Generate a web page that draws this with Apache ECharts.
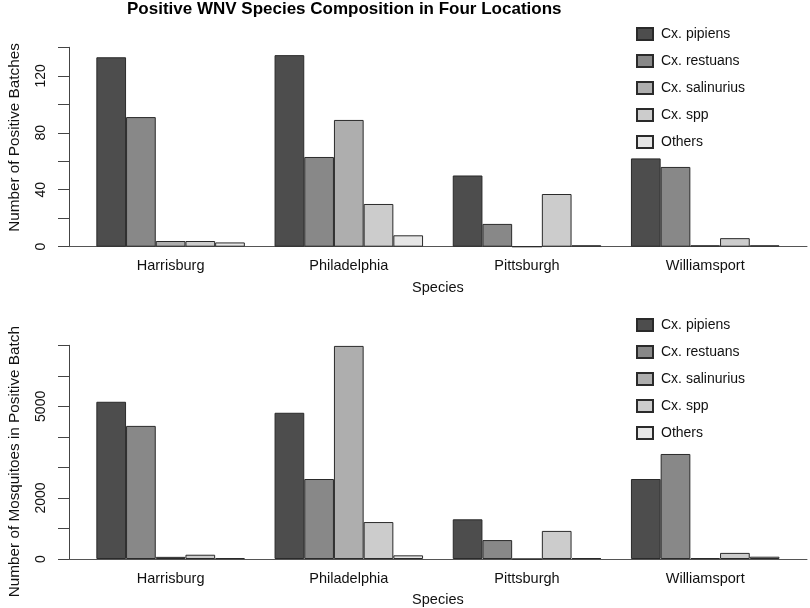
<!DOCTYPE html>
<html><head><meta charset="utf-8">
<script src="https://cdn.jsdelivr.net/npm/echarts@6/dist/echarts.min.js"></script>
<style>html,body{margin:0;padding:0;background:#fff}#c{width:810px;height:608px}</style>
</head><body><div id="c"></div><script>
// ---- data ----
const locations = ['Harrisburg', 'Philadelphia', 'Pittsburgh', 'Williamsport'];
const species = ['Cx. pipiens', 'Cx. restuans', 'Cx. salinurius', 'Cx. spp', 'Others'];

// Number of positive batches (top panel)
const batchesPipiens    = [133, 134.5, 50, 62];
const batchesRestuans   = [91, 63, 16, 56];
const batchesSalinurius = [4, 89, 0, 1];
const batchesSpp        = [4, 30, 37, 6];
const batchesOthers     = [3, 8, 1, 1];

// Number of mosquitoes in positive batch (bottom panel)
const mosqPipiens    = [5150, 4790, 1300, 2620];
const mosqRestuans   = [4360, 2620, 620, 3440];
const mosqSalinurius = [70, 6980, 0, 30];
const mosqSpp        = [140, 1210, 920, 200];
const mosqOthers     = [30, 120, 30, 75];

const topTickLabels = [0, 40, 80, 120];
const bottomTickLabels = [0, 2000, 5000];

// ---- styling ----
const colors = ['#4D4D4D', '#888888', '#AEAEAE', '#CCCCCC', '#E6E6E6'];
const FONT = 'Liberation Sans, Arial, Helvetica, sans-serif';

const frameLeft = 69, frameRight = 3;
const barsLeft = 81.5, barsWidth = 712.8;
const topTop = 47.3, topH = 199.4;
const botTop = 345.3, botH = 213.7;

const chart = echarts.init(document.getElementById('c'), null, {renderer: 'canvas'});

function frameY(gi, max, interval, shown, name, namePad) {
  return {
    gridIndex: gi, type: 'value', min: 0, max: max, interval: interval,
    axisLine: {show: true, lineStyle: {color: '#444', width: 1}},
    axisTick: {show: true, length: 11, lineStyle: {color: '#444'}},
    splitLine: {show: false},
    axisLabel: {
      show: true, rotate: 90, margin: 21, fontSize: 14, color: '#111', fontFamily: FONT,
      formatter: v => shown.indexOf(v) >= 0 ? String(v) : ''
    },
    name: name, nameLocation: 'middle', nameGap: 47,
    nameTextStyle: {fontSize: 15.3, color: '#111', fontFamily: FONT, padding: namePad}
  };
}
function frameX(gi) {
  return {
    gridIndex: gi, type: 'value', min: 0, max: 1,
    axisLine: {show: true, onZero: false, lineStyle: {color: '#555', width: 1}},
    axisTick: {show: false}, axisLabel: {show: false}, splitLine: {show: false}
  };
}
function barsX(gi) {
  return {
    gridIndex: gi, type: 'category', data: locations,
    axisLine: {show: false}, axisTick: {show: false}, splitLine: {show: false},
    axisLabel: {margin: 12, fontSize: 14.5, color: '#111', fontFamily: FONT},
    name: 'Species', nameLocation: 'middle', nameGap: 33.5,
    nameTextStyle: {fontSize: 14.5, color: '#111', fontFamily: FONT}
  };
}
function barsY(gi, max) {
  return {gridIndex: gi, type: 'value', min: 0, max: max, show: false, splitLine: {show: false}};
}

const topSets = [batchesPipiens, batchesRestuans, batchesSalinurius, batchesSpp, batchesOthers];
const botSets = [mosqPipiens, mosqRestuans, mosqSalinurius, mosqSpp, mosqOthers];

function barSeries(sets, xi, yi) {
  return sets.map((d, i) => ({
    type: 'bar', name: species[i], data: d,
    xAxisIndex: xi, yAxisIndex: yi,
    barGap: '0%', barCategoryGap: '16.6667%',
    itemStyle: {color: colors[i], borderColor: '#2a2a2a', borderWidth: 1},
    emphasis: {disabled: true}, animation: false
  }));
}

function legend(top) {
  return {
    left: 636, top: top, orient: 'vertical', padding: 0,
    itemWidth: 16, itemHeight: 12, itemGap: 13, icon: 'rect',
    data: species,
    textStyle: {fontSize: 14, color: '#111', fontFamily: FONT, lineHeight: 12, padding: [0, 0, 0, 3]}
  };
}

function grid(left, right, width, top, height) {
  const g = {left: left, top: top, height: height, containLabel: false, outerBoundsMode: 'none'};
  if (width != null) g.width = width; else g.right = right;
  return g;
}

chart.setOption({
  animation: false,
  backgroundColor: '#fff',
  textStyle: {fontFamily: FONT},
  title: {
    text: 'Positive WNV Species Composition in Four Locations',
    left: 127, top: 1, padding: 0,
    textStyle: {fontSize: 17, fontWeight: 'bold', color: '#000', fontFamily: FONT}
  },
  legend: [legend(27), legend(318)],
  grid: [
    grid(frameLeft, frameRight, null, topTop, topH),
    grid(barsLeft, null, barsWidth, topTop, topH),
    grid(frameLeft, frameRight, null, botTop, botH),
    grid(barsLeft, null, barsWidth, botTop, botH)
  ],
  xAxis: [frameX(0), barsX(1), frameX(2), barsX(3)],
  yAxis: [
    frameY(0, 140, 20, topTickLabels, 'Number of Positive Batches', [0, 0, 0, 19]),
    barsY(1, 140),
    frameY(2, 7000, 1000, bottomTickLabels, 'Number of Mosquitoes in Positive Batch', [0, 19, 0, 0]),
    barsY(3, 7000)
  ],
  series: [].concat(barSeries(topSets, 1, 1), barSeries(botSets, 3, 3))
});
</script></body></html>
